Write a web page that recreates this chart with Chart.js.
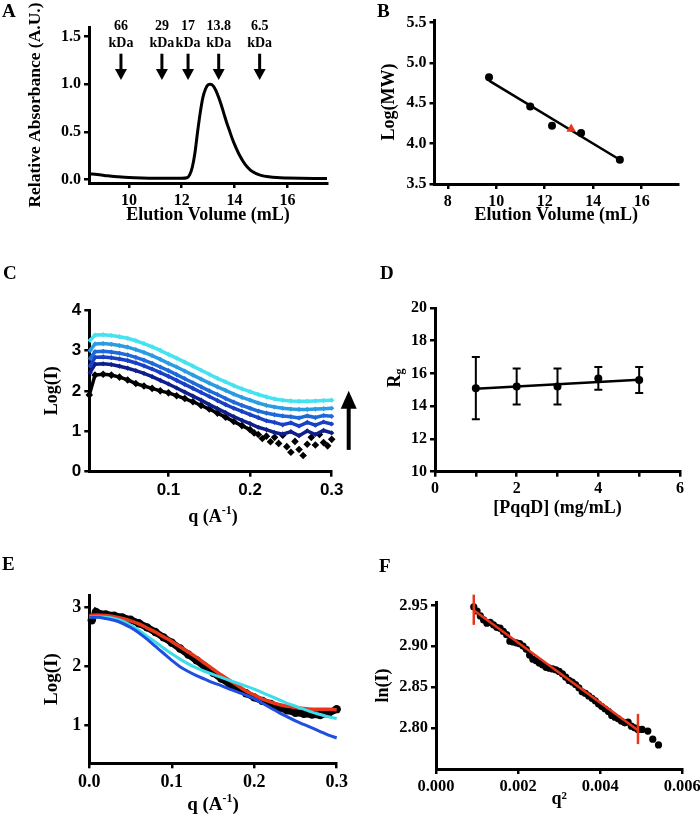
<!DOCTYPE html>
<html>
<head>
<meta charset="utf-8">
<script src="https://cdn.jsdelivr.net/npm/chart.js@4.4.0/dist/chart.umd.min.js"></script>
<style>
body { margin: 0; background: #fff; width: 700px; height: 821px; position: relative; overflow: hidden; }
canvas { position: absolute; }
</style>
</head>
<body>
<canvas id="cA" width="350" height="265" style="left:0px;top:0px"></canvas>
<canvas id="cB" width="350" height="265" style="left:350px;top:0px"></canvas>
<canvas id="cC" width="365" height="280" style="left:0px;top:265px"></canvas>
<canvas id="cD" width="350" height="280" style="left:350px;top:265px"></canvas>
<canvas id="cE" width="350" height="276" style="left:0px;top:545px"></canvas>
<canvas id="cF" width="350" height="276" style="left:350px;top:545px"></canvas>
<script>

// ========== data

// A - elution profile
const aVol = [8.5, 8.8, 9.2, 9.6, 10.0, 10.5, 11.0, 11.5, 12.0, 12.2, 12.3, 12.4, 12.5, 12.6, 12.7, 12.8, 12.9, 13.0, 13.08, 13.2, 13.3, 13.4, 13.5, 13.6, 13.7, 13.8, 13.9, 14.0, 14.2, 14.4, 14.6, 14.8, 15.0, 15.3, 15.6, 16.0, 16.5, 17.0, 17.5];
const aAbs = [0.06, 0.055, 0.04, 0.03, 0.022, 0.017, 0.015, 0.015, 0.015, 0.02, 0.05, 0.13, 0.28, 0.5, 0.7, 0.86, 0.95, 0.995, 1.0, 0.98, 0.93, 0.86, 0.78, 0.69, 0.6, 0.52, 0.44, 0.37, 0.25, 0.16, 0.1, 0.065, 0.045, 0.03, 0.022, 0.018, 0.015, 0.013, 0.012];
const markerVol = [9.7, 11.25, 12.24, 13.4, 14.95];
const markerMass = ['66', '29', '17', '13.8', '6.5'];
const aXTicks = [10, 12, 14, 16];
const aYTicks = [0, 0.5, 1.0, 1.5];

// B - standard curve
const bVol = [9.7, 11.4, 12.3, 13.5, 15.1];
const bLogMW = [4.82, 4.46, 4.22, 4.13, 3.80];
const sampleVol = [13.09];
const sampleLogMW = [4.18];
const bFitVol = [9.7, 15.1];
const bFitLog = [4.78, 3.80];
const bXTicks = [8, 10, 12, 14, 16];
const bYTicks = [3.5, 4.0, 4.5, 5.0, 5.5];

// C - scattering curves, high to low concentration
const cQ = [0.004, 0.01, 0.02, 0.03, 0.04, 0.05, 0.06, 0.07, 0.08, 0.09, 0.10, 0.11, 0.12, 0.13, 0.14, 0.15, 0.16, 0.17, 0.18, 0.19, 0.20, 0.21, 0.22, 0.23, 0.24, 0.25, 0.26, 0.27, 0.28, 0.29, 0.30];
const cCyan = [3.25, 3.38, 3.39, 3.37, 3.34, 3.30, 3.24, 3.17, 3.09, 3.00, 2.90, 2.81, 2.71, 2.61, 2.51, 2.41, 2.31, 2.22, 2.13, 2.05, 1.98, 1.91, 1.85, 1.80, 1.77, 1.75, 1.74, 1.74, 1.75, 1.76, 1.77];
const cLight = [3.00, 3.16, 3.17, 3.15, 3.12, 3.08, 3.02, 2.95, 2.87, 2.78, 2.68, 2.59, 2.49, 2.39, 2.29, 2.19, 2.10, 2.01, 1.92, 1.84, 1.77, 1.70, 1.64, 1.60, 1.57, 1.55, 1.54, 1.54, 1.55, 1.56, 1.57];
const cBlue = [2.80, 2.97, 2.98, 2.96, 2.93, 2.89, 2.83, 2.76, 2.68, 2.59, 2.50, 2.40, 2.30, 2.20, 2.10, 2.00, 1.91, 1.81, 1.72, 1.64, 1.57, 1.50, 1.45, 1.41, 1.38, 1.36, 1.33, 1.38, 1.34, 1.39, 1.37];
const cMid = [2.62, 2.83, 2.84, 2.82, 2.79, 2.75, 2.69, 2.62, 2.54, 2.45, 2.36, 2.26, 2.16, 2.06, 1.96, 1.86, 1.76, 1.66, 1.57, 1.49, 1.41, 1.34, 1.26, 1.22, 1.16, 1.21, 1.13, 1.22, 1.15, 1.23, 1.18];
const cNavy = [2.45, 2.66, 2.67, 2.65, 2.61, 2.56, 2.50, 2.43, 2.35, 2.26, 2.17, 2.07, 1.97, 1.87, 1.77, 1.66, 1.56, 1.46, 1.36, 1.27, 1.19, 1.10, 1.04, 0.97, 0.93, 0.99, 0.89, 1.01, 0.92, 1.02, 0.96];
const cBlackQ = [0.003, 0.01, 0.02, 0.03, 0.04, 0.05, 0.06, 0.07, 0.08, 0.09, 0.10, 0.11, 0.12, 0.13, 0.14, 0.15, 0.16, 0.17, 0.18, 0.19, 0.20, 0.205, 0.21, 0.215, 0.22, 0.225, 0.23, 0.235, 0.24, 0.245, 0.25, 0.255, 0.26, 0.265, 0.27, 0.275, 0.28, 0.285, 0.29, 0.295, 0.30];
const cBlack = [1.90, 2.39, 2.41, 2.39, 2.34, 2.27, 2.18, 2.12, 2.06, 2.00, 1.95, 1.88, 1.81, 1.73, 1.64, 1.55, 1.45, 1.35, 1.24, 1.14, 1.04, 0.96, 0.92, 0.82, 0.88, 0.74, 0.85, 0.70, 0.90, 0.62, 0.48, 0.75, 0.55, 0.40, 0.68, 0.85, 0.66, 0.92, 0.72, 0.64, 0.80];
const cXTicks = [0.1, 0.2, 0.3];
const cYTicks = [0, 1, 2, 3, 4];

// D - Rg vs concentration
const dConc = [1, 2, 3, 4, 5];
const dRg = [15.1, 15.2, 15.2, 15.7, 15.6];
const dErr = [1.9, 1.1, 1.1, 0.7, 0.8];
const dFitConc = [1, 5];
const dFitRg = [15.06, 15.62];
const dXTicks = [0, 1, 2, 3, 4, 5, 6];
const dYTicks = [10, 12, 14, 16, 18, 20];

// E - data vs models
const eQ = [0, 0.01, 0.02, 0.03, 0.04, 0.05, 0.06, 0.07, 0.08, 0.09, 0.10, 0.11, 0.12, 0.13, 0.14, 0.15, 0.16, 0.17, 0.18, 0.19, 0.20, 0.21, 0.22, 0.23, 0.24, 0.25, 0.26, 0.27, 0.28, 0.29, 0.30];
const eRed = [2.86, 2.87, 2.86, 2.84, 2.81, 2.77, 2.72, 2.65, 2.58, 2.50, 2.42, 2.33, 2.24, 2.15, 2.05, 1.95, 1.85, 1.76, 1.67, 1.58, 1.51, 1.44, 1.39, 1.35, 1.32, 1.30, 1.28, 1.27, 1.27, 1.27, 1.26];
const eCyan = [2.84, 2.84, 2.83, 2.81, 2.77, 2.70, 2.61, 2.51, 2.41, 2.31, 2.21, 2.12, 2.04, 1.97, 1.91, 1.86, 1.81, 1.76, 1.71, 1.66, 1.61, 1.55, 1.49, 1.43, 1.37, 1.32, 1.27, 1.22, 1.18, 1.14, 1.11];
const eBlue = [2.83, 2.83, 2.81, 2.78, 2.73, 2.66, 2.57, 2.46, 2.34, 2.22, 2.10, 1.99, 1.91, 1.84, 1.78, 1.72, 1.67, 1.61, 1.56, 1.51, 1.45, 1.37, 1.29, 1.21, 1.14, 1.07, 1.01, 0.95, 0.89, 0.83, 0.78];
const eDataQ = [0.003, 0.008, 0.01, 0.02, 0.03, 0.04, 0.05, 0.06, 0.07, 0.08, 0.09, 0.10, 0.11, 0.12, 0.13, 0.14, 0.15, 0.16, 0.17, 0.18, 0.19, 0.20, 0.21, 0.22, 0.23, 0.24, 0.25, 0.26, 0.27, 0.28, 0.29, 0.30];
const eDataI = [2.78, 2.92, 2.90, 2.88, 2.86, 2.83, 2.79, 2.73, 2.66, 2.58, 2.49, 2.40, 2.30, 2.20, 2.10, 1.99, 1.89, 1.79, 1.70, 1.62, 1.54, 1.47, 1.41, 1.36, 1.30, 1.25, 1.21, 1.19, 1.18, 1.17, 1.20, 1.27];
const eXTicks = [0, 0.1, 0.2, 0.3];
const eYTicks = [1, 2, 3];

// F - Guinier plot
const fQ2 = [0.00092, 0.00100, 0.00108, 0.00116, 0.00124, 0.00132, 0.00140, 0.00148, 0.00156, 0.00164, 0.00172, 0.00180, 0.00188, 0.00196, 0.00204, 0.00212, 0.00220, 0.00228, 0.00236, 0.00244, 0.00252, 0.00260, 0.00268, 0.00276, 0.00284, 0.00292, 0.00300, 0.00308, 0.00316, 0.00324, 0.00332, 0.00340, 0.00348, 0.00356, 0.00364, 0.00372, 0.00380, 0.00388, 0.00396, 0.00404, 0.00412, 0.00420, 0.00428, 0.00436, 0.00444, 0.00452, 0.00460, 0.00468, 0.00476, 0.00484, 0.00492, 0.00502, 0.00516, 0.00528, 0.00542];
const fLnI = [2.948, 2.943, 2.937, 2.932, 2.928, 2.929, 2.926, 2.923, 2.922, 2.918, 2.914, 2.906, 2.905, 2.904, 2.903, 2.900, 2.896, 2.889, 2.884, 2.882, 2.879, 2.877, 2.874, 2.873, 2.872, 2.871, 2.869, 2.866, 2.862, 2.858, 2.856, 2.853, 2.849, 2.844, 2.842, 2.839, 2.836, 2.833, 2.829, 2.826, 2.823, 2.820, 2.815, 2.813, 2.811, 2.808, 2.806, 2.807, 2.802, 2.800, 2.798, 2.798, 2.796, 2.786, 2.779];
const fFitQ2 = [0.00092, 0.00492];
const fFitLnI = [2.944, 2.797];
const fCutLow = [2.926, 2.780];
const fCutHigh = [2.963, 2.817];
const fXTicks = [0, 0.002, 0.004, 0.006];
const fYTicks = [2.80, 2.85, 2.90, 2.95];


// ========== helpers

const SERIF = '"Liberation Serif", "Times New Roman", serif';
const SANS = '"Liberation Sans", Arial, sans-serif';
const RED = '#e8361c';

function pts(xs, ys) {
	return xs.map((x, i) => ({ x: x, y: ys[i] }));
}

// scale with fixed ticks and a fixed box size so the plot area lands where it should
function makeScale(o) {
	return {
		type: 'linear',
		min: o.min,
		max: o.max,
		afterBuildTicks: s => { s.ticks = o.ticks.map(v => ({ value: v })); },
		afterFit: s => {
			if (o.horiz) s.height = o.size; else s.width = o.size;
			s.paddingLeft = 0; s.paddingRight = 0; s.paddingTop = 0; s.paddingBottom = 0;
		},
		border: { display: true, color: '#000', width: 3 },
		grid: { display: true, drawOnChartArea: false, drawTicks: true, tickLength: 5, color: '#000', lineWidth: 2.5 },
		ticks: {
			color: '#000', padding: 3, maxRotation: 0, autoSkip: false,
			font: o.tickFont || { family: SERIF, size: 16, weight: 'bold' },
			callback: o.fmt
		},
		title: o.title ? {
			display: true, text: o.title, color: '#000',
			font: { family: SERIF, size: o.titleSize || 18, weight: 'bold' },
			padding: o.titlePad
		} : { display: false }
	};
}

function makeChart(id, datasets, xScale, yScale, pad, plugins) {
	return new Chart(document.getElementById(id), {
		type: 'scatter',
		data: { datasets: datasets },
		options: {
			responsive: false,
			animation: false,
			devicePixelRatio: 1,
			events: [],
			layout: { padding: pad },
			plugins: { legend: { display: false }, tooltip: { enabled: false } },
			scales: { x: xScale, y: yScale }
		},
		plugins: plugins
	});
}

// text with super/subscripts, centred on (cx, cy)
function drawRich(ctx, parts, cx, cy, size, rotate) {
	ctx.save();
	ctx.translate(cx, cy);
	if (rotate) ctx.rotate(-Math.PI / 2);
	ctx.fillStyle = '#000';
	ctx.textBaseline = 'middle';
	ctx.textAlign = 'left';
	let fonts = parts.map(p => 'bold ' + ((p.sup || p.sub) ? Math.round(size * 0.65) : size) + 'px ' + SERIF);
	let widths = [];
	let total = 0;
	parts.forEach((p, i) => { ctx.font = fonts[i]; widths[i] = ctx.measureText(p.t).width; total += widths[i]; });
	let x = -total / 2;
	parts.forEach((p, i) => {
		ctx.font = fonts[i];
		ctx.fillText(p.t, x, p.sup ? -size * 0.32 : (p.sub ? size * 0.3 : 0));
		x += widths[i];
	});
	ctx.restore();
}

function letterPlugin(letter, x, y) {
	return {
		id: 'letter' + letter,
		afterDraw(chart) {
			const ctx = chart.ctx;
			ctx.save();
			ctx.fillStyle = '#000';
			ctx.font = 'bold 19px ' + SERIF;
			ctx.textAlign = 'left';
			ctx.textBaseline = 'alphabetic';
			ctx.fillText(letter, x, y);
			ctx.restore();
		}
	};
}


// ========== A

const markerPlugin = {
	id: 'markers',
	afterDatasetsDraw(chart) {
		const { ctx, scales: { x, y } } = chart;
		ctx.save();
		ctx.fillStyle = '#000';
		ctx.strokeStyle = '#000';
		ctx.font = 'bold 14px ' + SERIF;
		ctx.textAlign = 'center';
		ctx.textBaseline = 'middle';
		markerVol.forEach((v, i) => {
			const px = x.getPixelForValue(v);
			ctx.fillText(markerMass[i], px, y.getPixelForValue(1.61));
			ctx.fillText('kDa', px, y.getPixelForValue(1.43));
			const top = y.getPixelForValue(1.32);
			const tip = y.getPixelForValue(1.045);
			ctx.lineWidth = 3;
			ctx.beginPath(); ctx.moveTo(px, top); ctx.lineTo(px, tip - 9); ctx.stroke();
			ctx.beginPath(); ctx.moveTo(px - 6, tip - 11); ctx.lineTo(px + 6, tip - 11); ctx.lineTo(px, tip); ctx.closePath(); ctx.fill();
		});
		ctx.restore();
	}
};

makeChart('cA', [{
	data: pts(aVol, aAbs), showLine: true, borderColor: '#000', borderWidth: 3,
	pointRadius: 0, cubicInterpolationMode: 'monotone', clip: false
}],
	makeScale({ min: 8.49, max: 17.5, ticks: aXTicks, horiz: true, size: 82, fmt: v => v,
		title: 'Elution Volume (mL)', titlePad: { top: 0, bottom: 39 } }),
	makeScale({ min: -0.035, max: 1.6, ticks: aYTicks, size: 89, fmt: v => v.toFixed(1),
		title: 'Relative Absorbance (A.U.)', titleSize: 17.5, titlePad: { top: 25, bottom: 0 } }),
	{ left: 0, top: 27, right: 23, bottom: 0 },
	[markerPlugin, letterPlugin('A', 2, 17)]);


// ========== B

makeChart('cB', [
	{ data: pts(sampleVol, sampleLogMW), pointStyle: 'triangle', pointRadius: 5.5, pointBorderWidth: 0, backgroundColor: RED, borderColor: RED, clip: false },
	{ data: pts(bVol, bLogMW), pointRadius: 4, pointBorderWidth: 0, backgroundColor: '#000', borderColor: '#000', clip: false },
	{ data: pts(bFitVol, bFitLog), showLine: true, borderColor: '#000', borderWidth: 2.5, pointRadius: 0, clip: false }
],
	makeScale({ min: 7.45, max: 17.5, ticks: bXTicks, horiz: true, size: 81, fmt: v => v,
		title: 'Elution Volume (mL)', titlePad: { top: 0, bottom: 39 } }),
	makeScale({ min: 3.5, max: 5.53, ticks: bYTicks, size: 84.5, fmt: v => v.toFixed(1),
		title: 'Log(MW)', titlePad: { top: 29, bottom: 0 } }),
	{ left: 0, top: 20, right: 22, bottom: 0 },
	[letterPlugin('B', 27, 17)]);


// ========== C

const arrowPlugin = {
	id: 'arrowC',
	afterDraw(chart) {
		const { ctx, chartArea, scales: { y } } = chart;
		const px = chartArea.right + 17;
		const bottom = y.getPixelForValue(0.54);
		const tip = y.getPixelForValue(2.0);
		ctx.save();
		ctx.fillStyle = '#000';
		ctx.strokeStyle = '#000';
		ctx.lineWidth = 4;
		ctx.beginPath(); ctx.moveTo(px, bottom); ctx.lineTo(px, tip + 14); ctx.stroke();
		ctx.beginPath(); ctx.moveTo(px - 8, tip + 18); ctx.lineTo(px + 8, tip + 18); ctx.lineTo(px, tip); ctx.closePath(); ctx.fill();
		drawRich(ctx, [{ t: 'q (A' }, { t: '-1', sup: true }, { t: ')' }], 213, 252, 18, false);
		ctx.restore();
	}
};

function cSet(ys, color, xs) {
	return {
		data: pts(xs || cQ, ys), showLine: true, borderColor: color, backgroundColor: color,
		borderWidth: 3.5, pointStyle: 'rectRot', pointRadius: xs ? 3.8 : 2.6, pointBorderWidth: 0, clip: false,
		// the noisy tail of the buffer-like curve is only scattered points
		segment: xs ? { borderColor: c => (c.p0.parsed.x >= 0.2 ? 'rgba(0,0,0,0)' : color) } : undefined
	};
}

makeChart('cC', [
	cSet(cCyan, '#45e2ef'),
	cSet(cLight, '#2a9de2'),
	cSet(cBlue, '#1f6ad9'),
	cSet(cMid, '#1a40c6'),
	cSet(cNavy, '#0e1f8c'),
	cSet(cBlack, '#000', cBlackQ)
],
	makeScale({ min: 0.003, max: 0.3, ticks: cXTicks, horiz: true, size: 73.3, fmt: v => v.toFixed(1),
		tickFont: { family: SANS, size: 17, weight: 'bold' } }),
	makeScale({ min: 0, max: 4, ticks: cYTicks, size: 89.3, fmt: v => v,
		tickFont: { family: SANS, size: 17, weight: 'bold' },
		title: 'Log(I)', titlePad: { top: 42, bottom: 0 } }),
	{ left: 0, top: 45, right: 33.3, bottom: 0 },
	[arrowPlugin, letterPlugin('C', 3, 14)]);


// ========== D

const errPlugin = {
	id: 'errbars',
	beforeDatasetsDraw(chart) {
		const { ctx, scales: { x, y } } = chart;
		ctx.save();
		ctx.strokeStyle = '#000';
		ctx.lineWidth = 2;
		dConc.forEach((c, i) => {
			const px = x.getPixelForValue(c);
			const t = y.getPixelForValue(dRg[i] + dErr[i]);
			const b = y.getPixelForValue(dRg[i] - dErr[i]);
			ctx.beginPath();
			ctx.moveTo(px, t); ctx.lineTo(px, b);
			ctx.moveTo(px - 4, t); ctx.lineTo(px + 4, t);
			ctx.moveTo(px - 4, b); ctx.lineTo(px + 4, b);
			ctx.stroke();
		});
		ctx.restore();
	},
	afterDraw(chart) {
		drawRich(chart.ctx, [{ t: 'R' }, { t: 'g', sub: true }], 45, 113, 18, true);
	}
};

makeChart('cD', [
	{ data: pts(dConc, dRg), pointRadius: 4, pointBorderWidth: 0, backgroundColor: '#000', borderColor: '#000', clip: false },
	{ data: pts(dFitConc, dFitRg), showLine: true, borderColor: '#000', borderWidth: 2.5, pointRadius: 0, clip: false }
],
	makeScale({ min: 0, max: 6, ticks: dXTicks, horiz: true, size: 73.3, fmt: v => (v % 2 === 0 ? v : ''),
		title: '[PqqD] (mg/mL)', titlePad: { top: 0, bottom: 26 } }),
	makeScale({ min: 10, max: 20, ticks: dYTicks, size: 85, fmt: v => v }),
	{ left: 0, top: 43, right: 20, bottom: 0 },
	[errPlugin, letterPlugin('D', 30, 14)]);


// ========== E

const eTitlePlugin = {
	id: 'eTitle',
	afterDraw(chart) {
		drawRich(chart.ctx, [{ t: 'q (A' }, { t: '-1', sup: true }, { t: ')' }], 213, 260, 19, false);
	}
};

makeChart('cE', [
	{ data: pts(eQ, eBlue), showLine: true, borderColor: '#1f4fe0', borderWidth: 3, pointRadius: 0, cubicInterpolationMode: 'monotone', clip: false },
	{ data: pts(eQ, eCyan), showLine: true, borderColor: '#3cdcea', borderWidth: 3, pointRadius: 0, cubicInterpolationMode: 'monotone', clip: false },
	{ data: pts(eQ, eRed), showLine: true, borderColor: RED, borderWidth: 3.5, pointRadius: 0, cubicInterpolationMode: 'monotone', clip: false },
	{ data: pts(eDataQ, eDataI), showLine: true, borderColor: '#000', backgroundColor: '#000', borderWidth: 7, pointRadius: 4.2, pointBorderWidth: 0, clip: false }
],
	makeScale({ min: 0, max: 0.3, ticks: eXTicks, horiz: true, size: 57.7, fmt: v => v.toFixed(1),
		tickFont: { family: SERIF, size: 18, weight: 'bold' } }),
	makeScale({ min: 0.35, max: 3.21, ticks: eYTicks, size: 89.3, fmt: v => v,
		tickFont: { family: SERIF, size: 18, weight: 'bold' },
		title: 'Log(I)', titleSize: 19, titlePad: { top: 41, bottom: 0 } }),
	{ left: 0, top: 50, right: 13.3, bottom: 0 },
	[eTitlePlugin, letterPlugin('E', 2, 25)]);


// ========== F

const cutPlugin = {
	id: 'cuts',
	afterDatasetsDraw(chart) {
		const { ctx, scales: { x, y } } = chart;
		ctx.save();
		ctx.strokeStyle = RED;
		ctx.lineWidth = 2.5;
		fFitQ2.forEach((q, i) => {
			const px = x.getPixelForValue(q);
			ctx.beginPath();
			ctx.moveTo(px, y.getPixelForValue(fCutLow[i]));
			ctx.lineTo(px, y.getPixelForValue(fCutHigh[i]));
			ctx.stroke();
		});
		ctx.restore();
	}
};

makeChart('cF', [
	{ data: pts(fFitQ2, fFitLnI), showLine: true, borderColor: RED, borderWidth: 2.5, pointRadius: 0, clip: false },
	{ data: pts(fQ2, fLnI), pointRadius: 3.6, pointBorderWidth: 0, backgroundColor: '#000', borderColor: '#000', clip: false }
],
	makeScale({ min: 0, max: 0.006, ticks: fXTicks, horiz: true, size: 52, fmt: v => v.toFixed(3),
		tickFont: { family: SERIF, size: 16.5, weight: 'bold' },
		title: 'q\u00b2', titlePad: { top: 0, bottom: 11 } }),
	makeScale({ min: 2.7495, max: 2.954, ticks: fYTicks, size: 86, fmt: v => v.toFixed(2),
		tickFont: { family: SERIF, size: 16.5, weight: 'bold' },
		title: 'ln(I)', titlePad: { top: 23, bottom: 0 } }),
	{ left: 0, top: 57, right: 17.7, bottom: 0 },
	[cutPlugin, letterPlugin('F', 29, 27)]);

</script>
</body>
</html>
